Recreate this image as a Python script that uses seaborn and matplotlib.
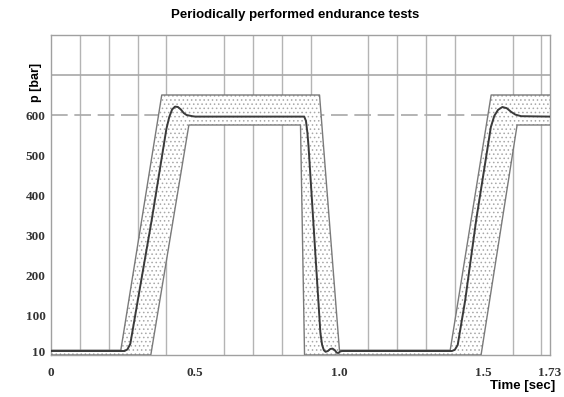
import numpy as np
import pandas as pd
import matplotlib
matplotlib.use("Agg")
import matplotlib.pyplot as plt
import seaborn as sns

# ---------------- data ----------------
upper_t = [0.0, 0.242, 0.384, 0.931, 1.000, 1.384, 1.526, 1.73]
upper_p = [12, 12, 650, 650, 12, 12, 650, 650]

lower_t = [0.0, 0.346, 0.478, 0.865, 0.879, 1.491, 1.616, 1.73]
lower_p = [0, 0, 575, 575, 0, 0, 575, 575]

curve_t = [0.0, 0.255, 0.265, 0.275, 0.301, 0.349, 0.400, 0.410, 0.420, 0.430,
           0.440, 0.450, 0.460, 0.470, 0.490, 0.500, 0.878, 0.884, 0.889, 0.893,
           0.934, 0.940, 0.946, 0.952, 0.960, 0.968, 0.976, 0.984, 0.990, 0.996,
           1.003, 1.010, 1.390, 1.400, 1.410, 1.436, 1.474, 1.525, 1.537, 1.550,
           1.565, 1.580, 1.595, 1.610, 1.630, 1.73]
curve_p = [10, 10, 14, 28, 137, 337, 565, 595, 614, 621,
           620, 614, 605, 600, 597, 596, 596, 585, 555, 520,
           55, 25, 12, 8, 10, 15, 16, 12, 6, 5,
           9, 10, 10, 13, 25, 137, 337, 570, 598, 613,
           620, 617, 608, 601, 597, 596]

x_tick_vals = [0, 0.5, 1.0, 1.5, 1.73]
x_tick_labels = ["0", "0.5", "1.0", "1.5", "1.73"]
y_tick_vals = [10, 100, 200, 300, 400, 500, 600]
y_tick_labels = ["10", "100", "200", "300", "400", "500", "600"]
x_grid = [round(0.1 * i, 1) for i in range(1, 18)]
y_grid = [100, 200, 300, 400, 500, 700]
nominal = 600

title = "Periodically performed endurance tests"
ylabel = "p [bar]"
xlabel = "Time [sec]"

# ---------------- figure ----------------
sns.set_style("white")
plt.rcParams["font.family"] = ["Liberation Sans", "DejaVu Sans"]
plt.rcParams["hatch.color"] = "#a8a8a8"
plt.rcParams["hatch.linewidth"] = 0.6

W, H = 564, 397
fig = plt.figure(figsize=(W / 100, H / 100), dpi=100)
ax = fig.add_axes([51 / W, 1 - 355 / H, (550 - 51) / W, (355 - 35) / H])

ax.set_xlim(0, 1.73)
ax.set_ylim(0, 800)

# grid
ax.set_xticks(x_grid, minor=True)
ax.set_yticks(y_grid, minor=True)
ax.grid(False)
ax.grid(True, which="minor", axis="x", color="#b4b4b4", lw=1.0)
ax.grid(True, which="minor", axis="y", color="#a8a8a8", lw=1.2)
ax.axhline(nominal, color="#a8a8a8", lw=1.2, dashes=(10, 4), zorder=1)

# tolerance band
band_x = np.concatenate([upper_t, lower_t[::-1]])
band_y = np.concatenate([upper_p, lower_p[::-1]])
ax.fill(band_x, band_y, facecolor="white", edgecolor="#a8a8a8", lw=0,
        hatch="....", zorder=2)

env = pd.DataFrame({"t": upper_t, "p": upper_p})
env2 = pd.DataFrame({"t": lower_t, "p": lower_p})
cur = pd.DataFrame({"t": curve_t, "p": curve_p})
sns.lineplot(data=env, x="t", y="p", ax=ax, color="#7a7a7a", lw=1.0,
             estimator=None, sort=False, zorder=3)
sns.lineplot(data=env2, x="t", y="p", ax=ax, color="#7a7a7a", lw=1.0,
             estimator=None, sort=False, zorder=3)
sns.lineplot(data=cur, x="t", y="p", ax=ax, color="#3a3a3a", lw=1.4,
             estimator=None, sort=False, zorder=4)

ax.set_xlabel("")
ax.set_ylabel("")

# ticks
ax.set_xticks(x_tick_vals)
ax.set_xticklabels(x_tick_labels)
ax.set_yticks(y_tick_vals)
ax.set_yticklabels(y_tick_labels)
ax.tick_params(axis="x", which="major", length=6, width=1, color="#8a8a8a",
               direction="out", pad=3)
ax.tick_params(axis="y", which="major", length=0, pad=4)
ax.tick_params(which="minor", length=0)
ax.xaxis.get_major_ticks()[-1].tick1line.set_visible(False)
for lab in ax.get_xticklabels() + ax.get_yticklabels():
    lab.set_fontfamily(["Liberation Serif", "DejaVu Serif"])
    lab.set_fontsize(9.5)
    lab.set_fontweight("bold")
    lab.set_color("#333333")

for s in ax.spines.values():
    s.set_color("#a0a0a0")
    s.set_linewidth(1.0)

fig.text(295 / W, 1 - 15 / H, title, ha="center", va="center",
         fontsize=9.5, fontweight="bold", color="black")
fig.text(36 / W, 1 - 82 / H, ylabel, ha="center", va="center", rotation=90,
         fontsize=9, fontweight="bold", color="black")
fig.text(555 / W, 1 - 386 / H, xlabel, ha="right", va="center",
         fontsize=9.5, fontweight="bold", color="black")

fig.savefig("out.png", dpi=100, facecolor="white")
